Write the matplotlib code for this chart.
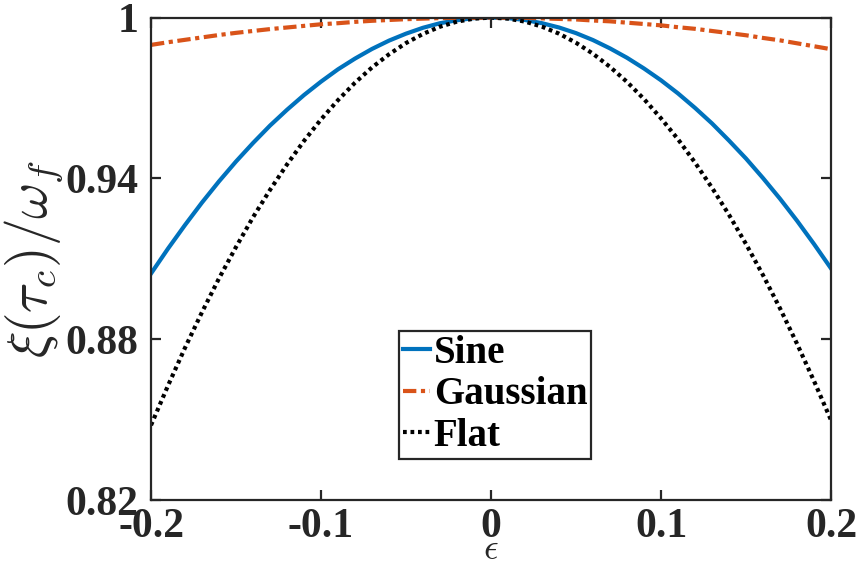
import numpy as np
import matplotlib
matplotlib.use("Agg")
import matplotlib.pyplot as plt

plt.rcParams["mathtext.fontset"] = "cm"
plt.rcParams["axes.unicode_minus"] = False

# detuning values (step 0.01) and normalised frequency for each pulse shape
eps = np.round(np.arange(-20, 21) * 0.01, 2)
sine = [0.9045, 0.9138, 0.9226, 0.9310, 0.9389, 0.9463, 0.9532, 0.9597,
        0.9656, 0.9711, 0.9761, 0.9807, 0.9847, 0.9883, 0.9914, 0.9940,
        0.9962, 0.9979, 0.9990, 0.9998, 1.0,
        0.9998, 0.9991, 0.9979, 0.9963, 0.9942, 0.9916, 0.9885, 0.9850,
        0.9810, 0.9766, 0.9717, 0.9663, 0.9605, 0.9541, 0.9474, 0.9401,
        0.9324, 0.9242, 0.9155, 0.9064]
gaussian = [0.9898, 0.9908, 0.9917, 0.9926, 0.9935, 0.9943, 0.9950, 0.9957,
            0.9963, 0.9969, 0.9975, 0.9979, 0.9984, 0.9988, 0.9991, 0.9994,
            0.9996, 0.9998, 0.9999, 0.9999, 1.0,
            0.9999, 0.9999, 0.9997, 0.9995, 0.9993, 0.9989, 0.9986, 0.9981,
            0.9976, 0.9971, 0.9964, 0.9958, 0.9950, 0.9942, 0.9934, 0.9924,
            0.9915, 0.9904, 0.9893, 0.9882]
flat = [0.8479, 0.8627, 0.8768, 0.8901, 0.9027, 0.9144, 0.9255, 0.9357,
        0.9452, 0.9540, 0.9620, 0.9692, 0.9757, 0.9814, 0.9863, 0.9905,
        0.9939, 0.9966, 0.9985, 0.9996, 1.0,
        0.9996, 0.9985, 0.9966, 0.9940, 0.9906, 0.9865, 0.9816, 0.9760,
        0.9696, 0.9624, 0.9546, 0.9459, 0.9365, 0.9264, 0.9155, 0.9039,
        0.8915, 0.8783, 0.8644, 0.8498]

xticks = [-0.2, -0.1, 0, 0.1, 0.2]
xticklabels = ["-0.2", "-0.1", "0", "0.1", "0.2"]
yticks = [0.82, 0.88, 0.94, 1.0]
yticklabels = ["0.82", "0.88", "0.94", "1"]

axcol = "#262626"

fig = plt.figure(figsize=(8.6, 5.8), dpi=100)
ax = fig.add_axes([0.1756, 0.1379, 0.7907, 0.8318])

ax.plot(eps, sine, color="#0072BD", lw=3.0, label="Sine")
ax.plot(eps, gaussian, color="#D95319", lw=3.0, dashes=(3.2, 1.1, 1.0, 1.1),
        label="Gaussian")
ax.plot(eps, flat, color="black", lw=3.0, dashes=(0.9, 0.9), label="Flat")

ax.set_xlim(-0.2, 0.2)
ax.set_ylim(0.82, 1.0)
ax.set_xticks(xticks)
ax.set_xticklabels(xticklabels)
ax.set_yticks(yticks)
ax.set_yticklabels(yticklabels)

for s in ax.spines.values():
    s.set_color(axcol)
    s.set_linewidth(1.6)
ax.tick_params(direction="in", length=7, width=1.6, color=axcol,
               top=True, right=True, labelsize=30, labelcolor=axcol)
ax.tick_params(axis="y", pad=9)
ax.tick_params(axis="x", pad=6)
for lab in ax.get_xticklabels() + ax.get_yticklabels():
    lab.set_family("Liberation Serif")
    lab.set_fontweight("bold")

ax.set_ylabel(r"$\xi(\tau_c)/\omega_f$", fontsize=40, color=axcol)
ax.yaxis.set_label_coords(-0.126, 0.5)
ax.set_xlabel(r"$\epsilon$", fontsize=26, color=axcol)
ax.xaxis.set_label_coords(0.5, -0.066)

leg = ax.legend(loc="center", bbox_to_anchor=(0.506, 0.218), fancybox=False,
                framealpha=1, edgecolor=axcol, handlelength=0.7,
                handletextpad=0.1, labelspacing=0.12, borderpad=0.1,
                borderaxespad=0,
                prop={"family": "Liberation Serif", "weight": "bold", "size": 28})
leg.get_frame().set_linewidth(1.6)

fig.savefig("out.png", dpi=100)
